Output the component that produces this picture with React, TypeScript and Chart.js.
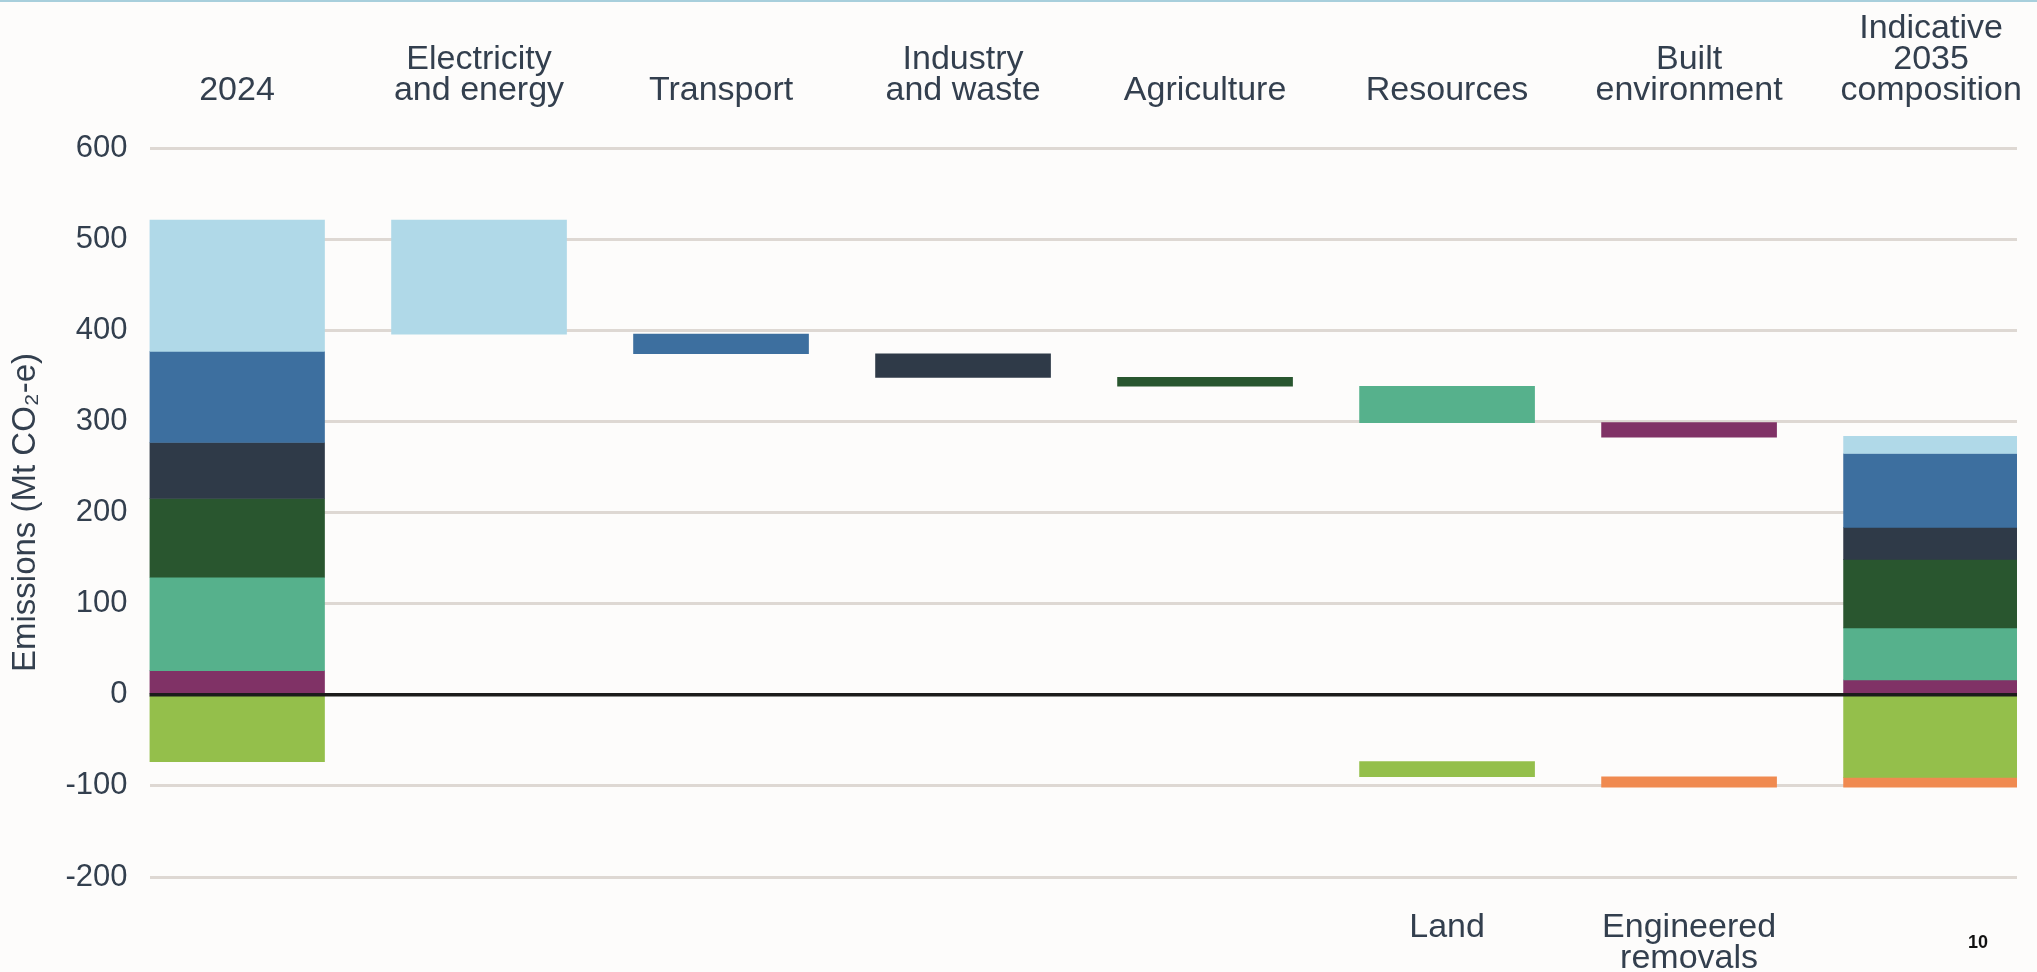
import React, { useEffect, useRef } from 'react';
import { Chart, registerables } from 'chart.js';

Chart.register(...registerables);

// ---- Data ----
const categoryLabels: string[][] = [
  ['2024'],
  ['Electricity', 'and energy'],
  ['Transport'],
  ['Industry', 'and waste'],
  ['Agriculture'],
  ['Resources'],
  ['Built', 'environment'],
  ['Indicative', '2035', 'composition'],
];
const bottomLabels: string[][] = [[''], [''], [''], [''], [''], ['Land'], ['Engineered', 'removals'], ['']];

const sectors = [
  'Electricity and energy',
  'Transport',
  'Industry and waste',
  'Agriculture',
  'Resources',
  'Built environment',
  'Land',
  'Engineered removals',
];
const sectorColors = ['#b0d9e8', '#3d6f9f', '#2f3a48', '#29562f', '#56b18c', '#803266', '#94bf4b', '#f08a50'];
const isRemoval = [false, false, false, false, false, false, true, true];

// Mt CO2-e
const emissions2024 = [144, 100, 61.4, 86.5, 102.5, 26.4, -73.4, 0];
const change2035 = [-125.1, -21.5, -25.9, -9.8, -39.8, -15.9, -16.6, -11.3];
const waterfallColumn = [1, 2, 3, 4, 5, 6, 5, 6];
const emissions2035 = [19, 81, 35.1, 75.2, 57, 16.4, -90.6, -10.9];

const yTicks = [-200, -100, 0, 100, 200, 300, 400, 500, 600];

const TEXT = '#333f4e';
const FONT = '"Liberation Sans", Arial, sans-serif';

type Range = [number, number] | null;

function stackColumn(values: number[], col: number, ranges: Range[][]) {
  let pos = 0;
  for (let i = values.length - 1; i >= 0; i--) {
    const v = values[i];
    if (!isRemoval[i] && v > 0) {
      ranges[i][col] = [pos, pos + v];
      pos += v;
    }
  }
  let neg = 0;
  for (let i = 0; i < values.length; i++) {
    const v = values[i];
    if (isRemoval[i] && v < 0) {
      ranges[i][col] = [neg + v, neg];
      neg += v;
    }
  }
  return { pos, neg };
}

function buildDatasets() {
  const ranges: Range[][] = sectors.map(() => categoryLabels.map(() => null));
  const { pos, neg } = stackColumn(emissions2024, 0, ranges);
  let runPos = pos;
  let runNeg = neg;
  for (let i = 0; i < sectors.length; i++) {
    const c = change2035[i];
    const col = waterfallColumn[i];
    if (isRemoval[i]) {
      ranges[i][col] = [runNeg + c, runNeg];
      runNeg += c;
    } else {
      ranges[i][col] = [runPos + c, runPos];
      runPos += c;
    }
  }
  stackColumn(emissions2035, categoryLabels.length - 1, ranges);

  return sectors.map((s, i) => ({
    label: s,
    backgroundColor: sectorColors[i],
    borderWidth: 0,
    grouped: false,
    barThickness: 175,
    data: ranges[i]
      .map((r, col) => (r ? { x: col, y: r } : null))
      .filter((d) => d !== null),
  }));
}

const zeroLine = {
  id: 'zeroLine',
  afterDatasetsDraw(chart: any) {
    const { ctx, chartArea, scales } = chart;
    const y = scales.y.getPixelForValue(0);
    ctx.save();
    ctx.strokeStyle = '#1c1c1b';
    ctx.lineWidth = 3.5;
    ctx.beginPath();
    ctx.moveTo(chartArea.left, y);
    ctx.lineTo(chartArea.right, y);
    ctx.stroke();
    ctx.restore();
  },
};

const X_MIN = -0.3616;
const X_MAX = 7.355;

export default function App() {
  const canvasRef = useRef<HTMLCanvasElement | null>(null);

  useEffect(() => {
    document.body.style.margin = '0';
    document.body.style.overflow = 'hidden';
    const canvas = canvasRef.current;
    if (!canvas) return;
    const colTicks = () => categoryLabels.map((_, i) => ({ value: i }));
    const chart = new Chart(canvas, {
      type: 'bar',
      data: { datasets: buildDatasets() as any },
      plugins: [zeroLine],
      options: {
        animation: false,
        responsive: true,
        maintainAspectRatio: false,
        layout: { padding: { left: 0, right: 20, top: 0, bottom: 0 } },
        plugins: { legend: { display: false }, tooltip: { enabled: false } },
        scales: {
          x: {
            type: 'linear',
            position: 'top',
            offset: false,
            min: X_MIN,
            max: X_MAX,
            grid: { display: false, offset: false },
            border: { display: false },
            afterBuildTicks: (s: any) => {
              s.ticks = colTicks();
            },
            afterFit: (s: any) => {
              s.height = 148;
              s.paddingLeft = 0;
              s.paddingRight = 0;
            },
            ticks: {
              autoSkip: false,
              maxRotation: 0,
              padding: 33.5,
              color: TEXT,
              font: { family: FONT, size: 34, lineHeight: 31 / 34 },
              callback: (v: any) => categoryLabels[Math.round(Number(v))] ?? '',
            },
          },
          x2: {
            type: 'linear',
            axis: 'x',
            position: 'bottom',
            offset: false,
            min: X_MIN,
            max: X_MAX,
            grid: { display: false, offset: false },
            border: { display: false },
            afterBuildTicks: (s: any) => {
              s.ticks = colTicks();
            },
            afterFit: (s: any) => {
              s.height = 95;
              s.paddingLeft = 0;
              s.paddingRight = 0;
            },
            ticks: {
              autoSkip: false,
              maxRotation: 0,
              padding: 27.5,
              color: TEXT,
              font: { family: FONT, size: 34, lineHeight: 31 / 34 },
              callback: (v: any) => bottomLabels[Math.round(Number(v))] ?? '',
            },
          },
          y: {
            type: 'linear',
            min: yTicks[0],
            max: yTicks[yTicks.length - 1],
            afterBuildTicks: (s: any) => {
              s.ticks = yTicks.map((v) => ({ value: v }));
            },
            afterFit: (s: any) => {
              s.width = 149.5;
              s.paddingTop = 0;
              s.paddingBottom = 0;
            },
            grid: { color: '#ded8d3', lineWidth: 3, drawTicks: false },
            border: { display: false },
            ticks: {
              padding: 22,
              color: TEXT,
              font: { family: FONT, size: 31 },
            },
            title: {
              display: true,
              text: 'Emissions (Mt CO₂-e)',
              color: TEXT,
              font: { family: FONT, size: 33 },
              padding: { top: 6, bottom: 0 },
            },
          },
        },
      } as any,
    });
    return () => chart.destroy();
  }, []);

  return (
    <div style={{ position: 'relative', width: 2037, height: 972, background: '#fdfcfb', overflow: 'hidden' }}>
      <div style={{ position: 'absolute', left: 0, top: 0, width: 2037, height: 2, background: '#a8cfdc' }} />
      <canvas ref={canvasRef} />
      <div
        style={{
          position: 'absolute',
          left: 1968,
          top: 933,
          fontFamily: FONT,
          fontWeight: 'bold',
          fontSize: 18,
          lineHeight: '18px',
          color: '#111',
        }}
      >
        10
      </div>
    </div>
  );
}
